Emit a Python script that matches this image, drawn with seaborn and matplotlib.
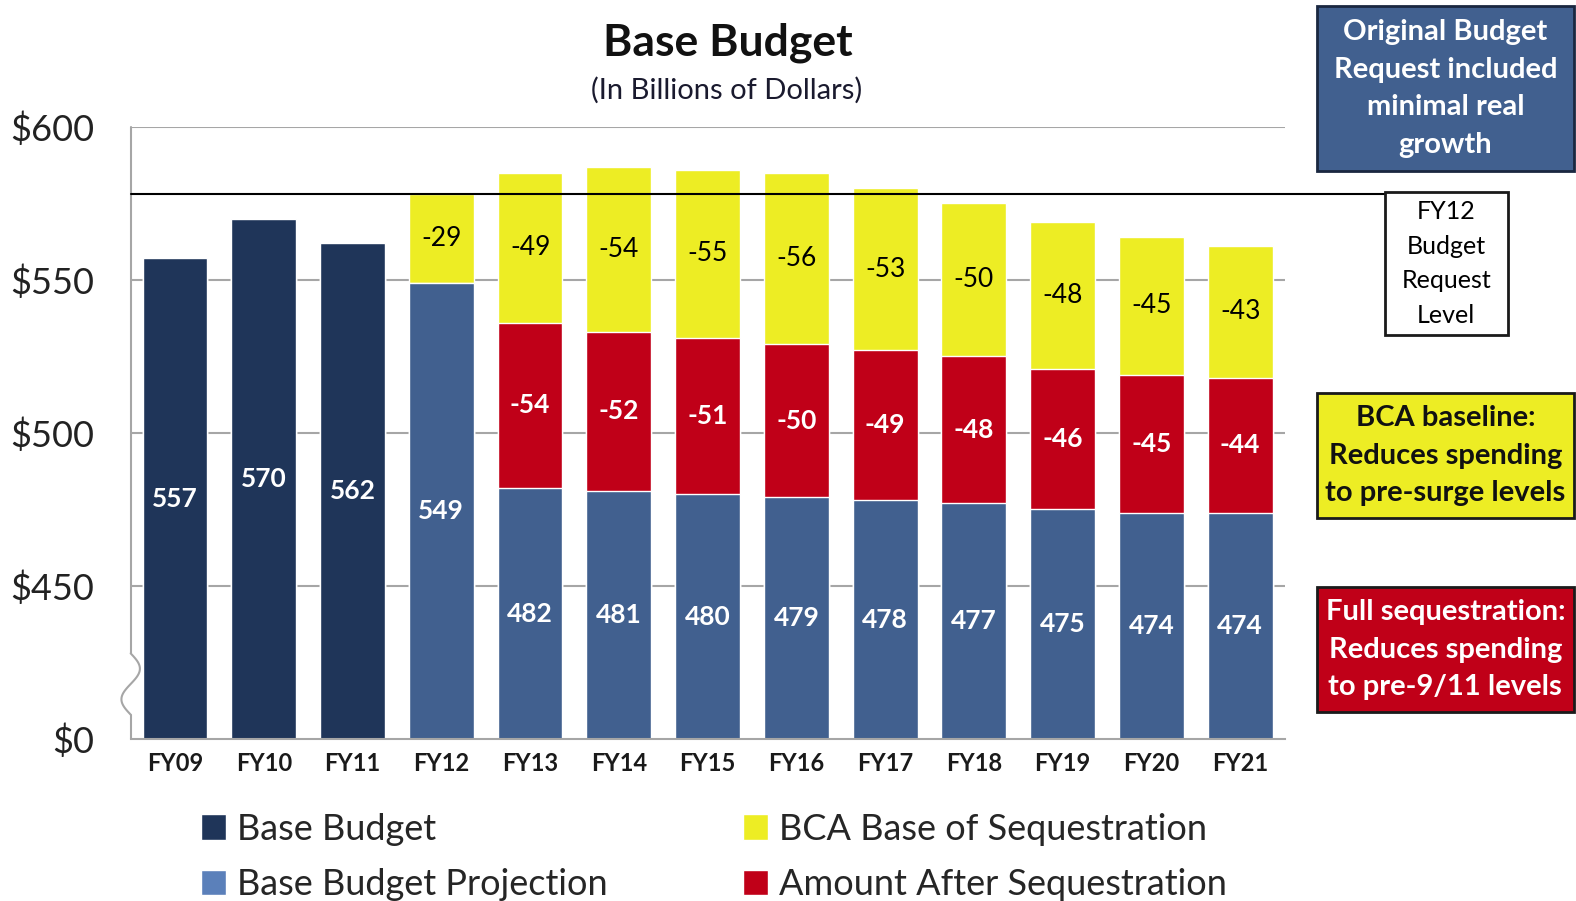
import numpy as np
import pandas as pd
import matplotlib
matplotlib.use("Agg")
import matplotlib.pyplot as plt
import seaborn as sns
from matplotlib.patches import Patch, Rectangle

# --- data (billions of dollars) ---
years = ["FY09", "FY10", "FY11", "FY12", "FY13", "FY14", "FY15",
         "FY16", "FY17", "FY18", "FY19", "FY20", "FY21"]
base = [557, 570, 562, 549, 482, 481, 480, 479, 478, 477, 475, 474, 474]
seq_cut = [0, 0, 0, 0, 54, 52, 51, 50, 49, 48, 46, 45, 44]
bca_cut = [0, 0, 0, 29, 49, 54, 55, 56, 53, 50, 48, 45, 43]
kind = ["Base Budget"] * 3 + ["Base Budget Projection"] * 10
request_level = 578
ytick_vals = [400, 450, 500, 550, 600]
ytick_labels = ["$0", "$450", "$500", "$550", "$600"]

NAVY = "#1f3559"
PROJ = "#41608f"
PROJ_LEGEND = "#5b80ba"
YELLOW = "#eded24"
RED = "#c00018"
GRID = "#a6a6a6"

df = pd.DataFrame({"year": years, "base": base, "seq": seq_cut,
                   "bca": bca_cut, "kind": kind})
df["after_seq"] = df["base"] + df["seq"]
df["total"] = df["after_seq"] + df["bca"]

sns.set_style("white")
plt.rcParams["font.family"] = ["Lato", "DejaVu Sans"]

W, H = 1568, 896  # layout measured on this grid


def fx(px):
    return px / W


def fy(py):
    return 1 - py / H


fig = plt.figure(figsize=(15.76, 9.01), dpi=100)
ax = fig.add_axes([fx(130), fy(735), fx(1278) - fx(130), fy(126) - fy(735)])

for v in ytick_vals[1:]:
    ax.axhline(v, color=GRID, lw=1.5, zorder=0)

bar_w = 0.73
sns.barplot(data=df, x="year", y="total", color=YELLOW, saturation=1,
            width=bar_w, ax=ax, zorder=2)
sns.barplot(data=df, x="year", y="after_seq", color=RED, saturation=1,
            width=bar_w, ax=ax, zorder=2)
sns.barplot(data=df, x="year", y="base", hue="kind", dodge=False,
            palette={"Base Budget": NAVY, "Base Budget Projection": PROJ},
            saturation=1, width=bar_w, legend=False, ax=ax, zorder=2)

ax.set_ylim(400, 600)
ax.set_xlim(-0.5, len(years) - 0.5)

# value labels centred in each visible segment
for i, row in df.iterrows():
    ax.text(i, (400 + row["base"]) / 2, str(row["base"]), ha="center",
            va="center", color="white", fontsize=19, weight="bold", zorder=5)
    if row["seq"] > 0:
        ax.text(i, row["base"] + row["seq"] / 2, f"-{row['seq']}",
                ha="center", va="center", color="white", fontsize=19,
                weight="bold", zorder=5)
    if row["bca"] > 0:
        ax.text(i, row["after_seq"] + row["bca"] / 2, f"-{row['bca']}",
                ha="center", va="center", color="black", fontsize=19, zorder=5)

# FY12 request level line, running out to the note box
ax.axhline(request_level, xmin=0, xmax=(1440 - 130) / (1278 - 130),
           color="black", lw=1.5, clip_on=False, zorder=4)

# axes styling
for s in ["top", "right", "left"]:
    ax.spines[s].set_visible(False)
ax.spines["bottom"].set_color(GRID)
ax.spines["bottom"].set_linewidth(1.5)
ax.set_yticks(ytick_vals, ytick_labels)
ax.tick_params(axis="y", length=0, pad=26, labelsize=26, labelcolor="#222222")
ax.tick_params(axis="x", length=0, pad=9, labelsize=17, labelcolor="#1a1a1a")
for lab in ax.get_xticklabels():
    lab.set_fontweight("bold")
ax.set_xlabel("")
ax.set_ylabel("")

# broken left spine with a squiggle between $0 and $450
ax.plot([0, 0], [0, 0.04], color=GRID, lw=1.5, transform=ax.transAxes,
        clip_on=False, zorder=1)
ax.plot([0, 0], [0.14, 1], color=GRID, lw=1.5, transform=ax.transAxes,
        clip_on=False, zorder=1)
s = np.linspace(0, 1, 80)
ax.plot(0.008 * np.sin(2 * np.pi * s), 0.14 - 0.10 * s, color=GRID,
        lw=1.5, transform=ax.transAxes, clip_on=False, zorder=1)

# titles
fig.text(fx(724), fy(43), "Base Budget", ha="center", va="center",
         fontsize=32, weight="bold", color="#111111")
fig.text(fx(723), fy(90), "(In Billions of Dollars)", ha="center",
         va="center", fontsize=21, color="#1a1a2e")


def note_box(left, top, right, bottom, text, fc, tc, size, weight="bold",
             ec="#1a1a1a", ls=1.55):
    fig.add_artist(Rectangle((fx(left), fy(bottom)), fx(right) - fx(left),
                             fy(top) - fy(bottom), transform=fig.transFigure,
                             facecolor=fc, edgecolor=ec, lw=2))
    fig.text(fx((left + right) / 2), fy((top + bottom) / 2), text,
             ha="center", va="center", color=tc, fontsize=size,
             weight=weight, linespacing=ls)


note_box(1310, 6, 1566, 170, "Original Budget\nRequest included\nminimal real\ngrowth",
         PROJ, "white", 21, ec="#1a2740")
note_box(1378, 191, 1500, 333, "FY12\nBudget\nRequest\nLevel",
         "white", "black", 18, weight="normal", ls=1.62)
note_box(1310, 391, 1566, 515, "BCA baseline:\nReduces spending\nto pre-surge levels",
         YELLOW, "#111111", 21)
note_box(1310, 584, 1566, 708, "Full sequestration:\nReduces spending\nto pre-9/11 levels",
         RED, "white", 21)

# legend
handles = [Patch(facecolor=NAVY), Patch(facecolor=PROJ_LEGEND),
           Patch(facecolor=YELLOW), Patch(facecolor=RED)]
labels = ["Base Budget", "Base Budget Projection",
          "BCA Base of Sequestration", "Amount After Sequestration"]
fig.legend(handles, labels, ncol=2, loc="upper left",
           bbox_to_anchor=(fx(200), fy(808)), frameon=False, fontsize=26,
           handlelength=0.7, handleheight=0.7, handletextpad=0.3,
           columnspacing=3.75, labelspacing=0.62, borderpad=0,
           borderaxespad=0)

fig.savefig("out.png", dpi=100)
